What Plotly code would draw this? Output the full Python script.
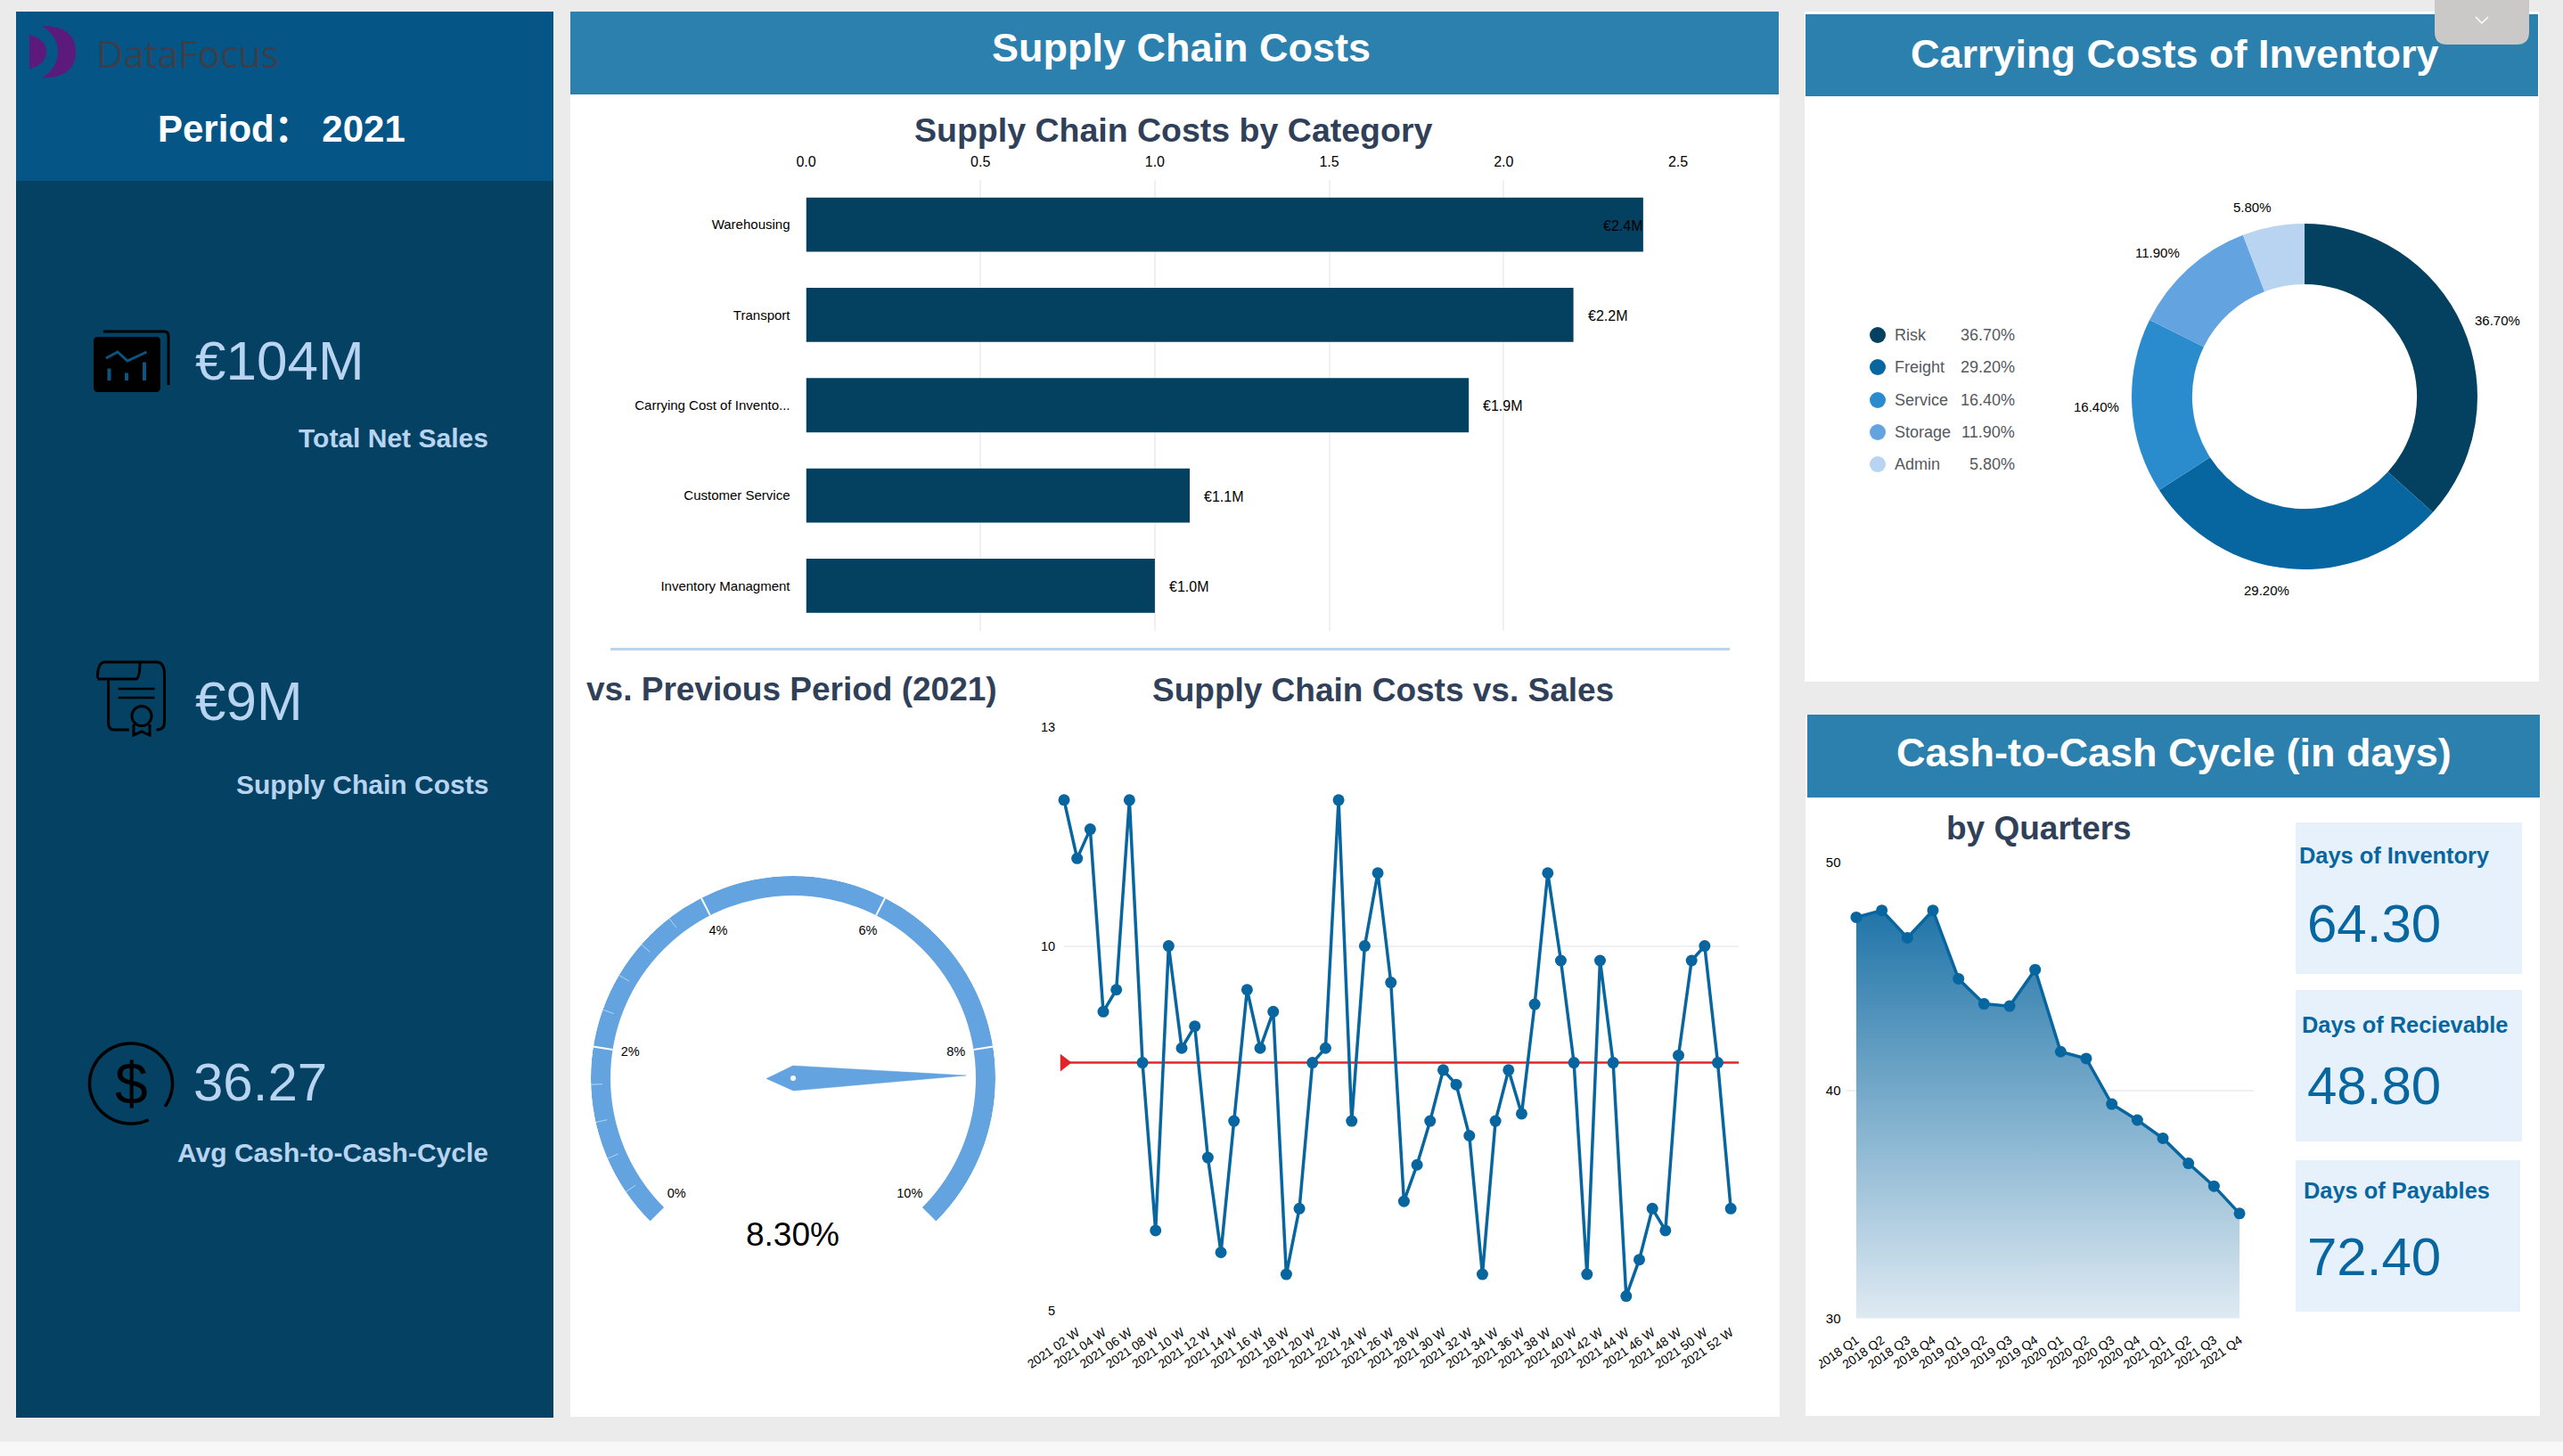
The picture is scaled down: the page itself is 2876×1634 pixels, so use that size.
import numpy as np
import plotly.graph_objects as go

# ---- Data ----
period = "2021"
kpi_sales = "€104M"
kpi_costs = "€9M"
kpi_c2c = "36.27"

cost_categories = ["Warehousing", "Transport", "Carrying Cost of Invento...", "Customer Service", "Inventory Managment"]
cost_values = [2.4, 2.2, 1.9, 1.1, 1.0]

gauge_value = 8.3
gauge_ticks = [0, 2, 4, 6, 8, 10]

weeks = list(range(1, 53))
cost_ratio = [12.0, 11.2, 11.6, 9.1, 9.4, 12.0, 8.4, 6.1, 10.0, 8.6, 8.9, 7.1, 5.8,
              7.6, 9.4, 8.6, 9.1, 5.5, 6.4, 8.4, 8.6, 12.0, 7.6, 10.0, 11.0, 9.5,
              6.5, 7.0, 7.6, 8.3, 8.1, 7.4, 5.5, 7.6, 8.3, 7.7, 9.2, 11.0, 9.8,
              8.4, 5.5, 9.8, 8.4, 5.2, 5.7, 6.4, 6.1, 8.5, 9.8, 10.0, 8.4, 6.4]
cost_ratio_reference = 8.4
week_tick_numbers = list(range(2, 53, 2))
week_tick_labels = [f"2021 {w:02d} W" for w in week_tick_numbers]

carrying_labels = ["Risk", "Freight", "Service", "Storage", "Admin"]
carrying_shares = [36.7, 29.2, 16.4, 11.9, 5.8]

quarters = ["2018 Q1", "2018 Q2", "2018 Q3", "2018 Q4", "2019 Q1", "2019 Q2", "2019 Q3", "2019 Q4",
            "2020 Q1", "2020 Q2", "2020 Q3", "2020 Q4", "2021 Q1", "2021 Q2", "2021 Q3", "2021 Q4"]
cycle_days = [47.6, 47.9, 46.7, 47.9, 44.9, 43.8, 43.7, 45.3,
              41.7, 41.4, 39.4, 38.7, 37.9, 36.8, 35.8, 34.6]

days_inventory = 64.30
days_receivable = 48.80
days_payables = 72.40

# ---- Page geometry and palette ----
W, H = 2876, 1634
FONT = "Liberation Sans, Arial, sans-serif"
NAVY = "#04405f"
BLUE = "#07669f"
MID = "#2b8ccd"
SKY = "#62a3e0"
PALE = "#b8d4f0"
HEADER = "#2c80ae"
SLATE = "#2f4058"
GRID = "#eff0f2"
SHARE_COLORS = [NAVY, BLUE, MID, SKY, PALE]


def dom_x(a, b):
    return [a / W, b / W]


def dom_y(top, bottom):
    return [1 - bottom / H, 1 - top / H]


shapes = []
annotations = []


def rect(x0, y0, x1, y1, color, layer="below"):
    shapes.append(dict(type="rect", xref="x", yref="y", x0=x0, y0=y0, x1=x1, y1=y1,
                       fillcolor=color, line_width=0, layer=layer))


def path(d, stroke=None, width=0, fill=None):
    shapes.append(dict(type="path", xref="x", yref="y", path=d, layer="below",
                       fillcolor=fill or "rgba(0,0,0,0)",
                       line=dict(color=stroke or "rgba(0,0,0,0)", width=width)))


def label(x, y, text, size, color="#000000", anchor="center", bold=False, family=FONT):
    annotations.append(dict(x=x, y=y, xref="x", yref="y", text=text, showarrow=False,
                            xanchor=anchor, yanchor="middle", borderpad=0,
                            font=dict(family=family, size=size, color=color,
                                      weight=700 if bold else 400)))


def ring_path(cx, cy, rx, ry, start_deg, end_deg, steps=80):
    angles = np.radians(np.linspace(start_deg, end_deg, steps))
    pts = [f"{cx + rx * np.cos(a):.1f},{cy - ry * np.sin(a):.1f}" for a in angles]
    return "M" + " L".join(pts)


# ---- Panels ----
rect(0, 0, W, H, "#ebebeb")
rect(0, 1618, W, H, "#f8f8f8")

rect(18, 13, 621, 1591, "#044163")
rect(18, 13, 621, 203, "#055587")

rect(640, 13, 1997, 1590, "#ffffff")
rect(640, 13, 1996, 106, HEADER)
rect(685, 727, 1941, 730, PALE)

rect(2025, 13, 2849, 765, "#ffffff")
rect(2026, 16, 2848, 108, HEADER)

rect(2026, 802, 2850, 1589, "#ffffff")
rect(2028, 802, 2850, 895, HEADER)

# Collapse tab in the top right corner
path("M2732,0 L2838,0 L2838,36 Q2838,50 2824,50 L2746,50 Q2732,50 2732,36 Z", fill="#cbc8c8")
path("M2778,19 L2785,26 L2792,19", stroke="#ffffff", width=1.5)

# Metric cards
rect(2576, 923, 2830, 1093, "#e7f1fb")
rect(2576, 1111, 2830, 1281, "#e7f1fb")
rect(2576, 1302, 2828, 1472, "#e7f1fb")

# Logo
path("M33,39 Q52,44 52,58 Q52,72 33,77.5 Z", fill="#5c1a7c")
path("M47,29 Q85,29 85,58 Q85,87.5 47,87.5 Q65,76 65,58 Q65,40 47,29 Z", fill="#5c1a7c")

# Sales icon
path("M116,372 L184,372 Q189,372 189,377 L189,432", stroke="#000000", width=3)
path("M110,378 L175,378 Q180,378 180,383 L180,435 Q180,440 175,440 L110,440 Q105,440 105,435 L105,383 Q105,378 110,378 Z",
     fill="#000000")
path("M119,402 L132,395 L143,405 L164.5,395", stroke="#0b5580", width=3)
path("M122.5,413.5 L122.5,427 M142,418.6 L142,427 M162,406.4 L162,427", stroke="#0b5580", width=4)

# Certificate icon
path("M109.4,761 Q109.4,743 118,743 L175.5,743 Q184.5,743 184.5,757 L184.5,811 Q184.5,819 175.5,819",
     stroke="#000000", width=3)
path("M109.4,762 L153,762 Q157,760 157,743", stroke="#000000", width=3)
path("M121.6,762 L121.6,811 Q121.6,819 128,819 L145,819", stroke="#000000", width=3)
path("M132.7,773 L173.5,773 M132.7,783 L173.5,783", stroke="#000000", width=2.5)
path(ring_path(159, 803.6, 11, 11, 0, 360, 40) + " Z", stroke="#000000", width=3)
path("M150,813 L150,825 L159,821 L168,825 L168,813", stroke="#000000", width=3)

# Currency icon
path(ring_path(147, 1216, 46.5, 45, -35, 295 - 0, 120), stroke="#000000", width=3.5)
label(147, 1216, "$", 66, "#000000")

# ---- Page text ----
label(107, 59, "DataFocus", 42, "#3b3f4a", anchor="left", family="Open Sans, sans-serif")
label(316, 144, f"Period： {period}", 42, "#ffffff", bold=True,
      family="Liberation Sans, Noto Sans CJK SC, sans-serif")
label(218, 404, kpi_sales, 62, PALE, anchor="left")
label(549, 491, "Total Net Sales", 30, PALE, anchor="right", bold=True)
label(218, 786, kpi_costs, 62, PALE, anchor="left")
label(549, 880, "Supply Chain Costs", 30, PALE, anchor="right", bold=True)
label(216, 1214, kpi_c2c, 60, PALE, anchor="left")
label(549, 1293, "Avg Cash-to-Cash-Cycle", 30, PALE, anchor="right", bold=True)

label(1325, 53, "Supply Chain Costs", 45, "#ffffff", bold=True)
label(1316, 146, "Supply Chain Costs by Category", 37.5, SLATE, bold=True)
label(888, 773, "vs. Previous Period (2021)", 37, SLATE, bold=True)
label(1552, 774, "Supply Chain Costs vs. Sales", 37, SLATE, bold=True)
label(2440, 60, "Carrying Costs of Inventory", 45, "#ffffff", bold=True)
label(2439, 844, "Cash-to-Cash Cycle (in days)", 45, "#ffffff", bold=True)
label(2288, 929, "by Quarters", 37, SLATE, bold=True)

label(2579, 960, "Days of Inventory", 25.4, BLUE, anchor="left", bold=True)
label(2588, 1036, f"{days_inventory:.2f}", 60, BLUE, anchor="left")
label(2582, 1150, "Days of Recievable", 25.4, BLUE, anchor="left", bold=True)
label(2588, 1218, f"{days_receivable:.2f}", 60, BLUE, anchor="left")
label(2584, 1336, "Days of Payables", 25.4, BLUE, anchor="left", bold=True)
label(2588, 1410, f"{days_payables:.2f}", 60, BLUE, anchor="left")

label(889, 1385, f"{gauge_value:.2f}%", 37)

# Legend beside the donut
legend_rows = [376, 412, 449, 485, 521]
for row, name, share, color in zip(legend_rows, carrying_labels, carrying_shares, SHARE_COLORS):
    shapes.append(dict(type="circle", xref="x", yref="y", x0=2098, x1=2116, y0=row - 9, y1=row + 9,
                       fillcolor=color, line_width=0, layer="below"))
    label(2125, row, name, 18, "#55585e", anchor="left")
    label(2262, row, f"{share:.2f}%", 18, "#55585e", anchor="right")

# Donut percentage labels
donut_label_spots = [(2802, 359), (2543, 662), (2352, 456), (2421, 283), (2527, 232)]
for (px, py), share in zip(donut_label_spots, carrying_shares):
    label(px, py, f"{share:.2f}%", 15)

fig = go.Figure()

# Full-page pixel canvas that carries the panels and free text
fig.add_trace(go.Scatter(x=[0, W], y=[0, H], mode="none", xaxis="x", yaxis="y",
                         showlegend=False, hoverinfo="skip"))

# ---- Costs by category ----
fig.add_trace(go.Bar(x=cost_values, y=cost_categories, orientation="h", width=0.6,
                     marker=dict(color=NAVY, line_width=0), xaxis="x2", yaxis="y2",
                     showlegend=False))
for name, value in zip(cost_categories, cost_values):
    near_edge = value >= 2.4
    annotations.append(dict(x=value, y=name, xref="x2", yref="y2", text=f"€{value:.1f}M", showarrow=False,
                            xanchor="right" if near_edge else "left", xshift=0 if near_edge else 15,
                            yshift=-1, borderpad=0, font=dict(family=FONT, size=16, color="#000000")))

# ---- Weekly cost ratio ----
x_span = [1, 1 + (1951 - 1194) / 14.67]
fig.add_trace(go.Scatter(x=x_span, y=[cost_ratio_reference] * 2, mode="lines",
                         line=dict(color="#e0242a", width=2.5), xaxis="x3", yaxis="y3",
                         showlegend=False, hoverinfo="skip"))
fig.add_trace(go.Scatter(x=[x_span[0]], y=[cost_ratio_reference], mode="markers",
                         marker=dict(symbol="triangle-right", size=17, color="#e0242a", line_width=0),
                         xaxis="x3", yaxis="y3", showlegend=False, cliponaxis=False, hoverinfo="skip"))
fig.add_trace(go.Scatter(x=weeks, y=cost_ratio, mode="lines+markers",
                         line=dict(color=BLUE, width=3.5), marker=dict(size=13, color=BLUE),
                         xaxis="x3", yaxis="y3", showlegend=False, cliponaxis=False))

# ---- Cash-to-cash by quarter ----
quarter_pos = list(range(len(quarters)))
fig.add_trace(go.Scatter(x=quarter_pos, y=cycle_days, mode="lines+markers", fill="tozeroy",
                         fillgradient=dict(type="vertical", start=30, stop=48,
                                           colorscale=[[0, "#dfeaf2"], [1, "#1f74a8"]]),
                         line=dict(color=BLUE, width=3.5), marker=dict(size=13, color=BLUE),
                         xaxis="x4", yaxis="y4", showlegend=False, cliponaxis=False))

# ---- Gauge ----
GAUGE_START = 225.0
GAUGE_SWEEP = 270.0
GAUGE_MAX = gauge_ticks[-1]
R_OUT, R_IN = 227, 205


def gauge_angle(v):
    return GAUGE_START - GAUGE_SWEEP * v / GAUGE_MAX


fig.add_trace(go.Barpolar(r=[R_OUT - R_IN], base=[R_IN], theta=[gauge_angle(GAUGE_MAX / 2)], width=[GAUGE_SWEEP],
                          marker=dict(color=SKY, line_width=0), subplot="polar", showlegend=False))
for tick in gauge_ticks[1:-1]:
    fig.add_trace(go.Scatterpolar(r=[R_IN, R_OUT], theta=[gauge_angle(tick)] * 2, mode="lines",
                                  line=dict(color="#ffffff", width=2), subplot="polar", showlegend=False,
                                  hoverinfo="skip"))
for step in (0, 2):
    for k in range(1, 5):
        tick = step + k * 0.4
        fig.add_trace(go.Scatterpolar(r=[R_OUT - 13, R_OUT], theta=[gauge_angle(tick)] * 2, mode="lines",
                                      line=dict(color="rgba(255,255,255,0.55)", width=1), subplot="polar",
                                      showlegend=False, hoverinfo="skip"))
fig.add_trace(go.Scatterpolar(r=[185] * len(gauge_ticks), theta=[gauge_angle(t) for t in gauge_ticks],
                              text=[f"{t}%" for t in gauge_ticks], mode="text", textposition="middle center",
                              textfont=dict(family=FONT, size=14.5, color="#000000"),
                              subplot="polar", showlegend=False, hoverinfo="skip"))
needle = gauge_angle(gauge_value)
fig.add_trace(go.Scatterpolar(r=[194, 14, 30, 14, 194], theta=[needle, needle + 90, needle + 180, needle + 270, needle],
                              mode="lines", fill="toself", fillcolor=SKY, line=dict(color=SKY, width=0.5),
                              subplot="polar", showlegend=False, hoverinfo="skip"))
fig.add_trace(go.Scatterpolar(r=[0], theta=[0], mode="markers", marker=dict(size=6, color="#ffffff"),
                              subplot="polar", showlegend=False, hoverinfo="skip"))

# ---- Carrying cost donut ----
fig.add_trace(go.Pie(labels=carrying_labels, values=carrying_shares, hole=0.65, sort=False,
                     direction="clockwise", rotation=0, textinfo="none", showlegend=False,
                     marker=dict(colors=SHARE_COLORS, line_width=0),
                     domain=dict(x=dom_x(2392, 2780), y=dom_y(251, 639))))

# Tick labels that run off the plot edge stop at the panel margin
rect(2026, 1500, 2041, 1570, "#ffffff", layer="above")
rect(1125, 1485, 1147, 1565, "#ffffff", layer="above")

tick_font = dict(family=FONT, size=14, color="#000000")
hidden = dict(visible=False, fixedrange=True)

fig.update_layout(
    width=W, height=H, margin=dict(l=0, r=0, t=0, b=0, pad=0, autoexpand=False),
    paper_bgcolor="#ebebeb", plot_bgcolor="rgba(0,0,0,0)", showlegend=False,
    font=dict(family=FONT), shapes=shapes, annotations=annotations,
    xaxis=dict(hidden, domain=[0, 1], range=[0, W]),
    yaxis=dict(hidden, domain=[0, 1], range=[H, 0]),
    xaxis2=dict(domain=dom_x(904.5, 1883), range=[0, 2.5], side="top", anchor="y2",
                tickvals=[0, 0.5, 1, 1.5, 2, 2.5], tickformat=".1f", tickprefix="€", ticksuffix="M",
                tickfont=dict(family=FONT, size=16, color="#000000"), ticks="outside", ticklen=7,
                tickcolor="rgba(0,0,0,0)", gridcolor=GRID, gridwidth=1.5, zeroline=False, showline=False),
    yaxis2=dict(domain=dom_y(201.5, 708), anchor="x2", autorange="reversed", type="category",
                tickfont=dict(family=FONT, size=15, color="#000000"), ticks="outside", ticklen=14,
                tickcolor="rgba(0,0,0,0)", showgrid=False, zeroline=False, showline=False),
    xaxis3=dict(domain=dom_x(1194, 1951), range=x_span, anchor="y3", tickmode="array",
                tickvals=week_tick_numbers, ticktext=week_tick_labels, tickangle=-35, tickfont=tick_font,
                ticks="outside", ticklen=10, tickcolor="rgba(0,0,0,0)", showgrid=False,
                zeroline=False, showline=False),
    yaxis3=dict(domain=dom_y(816, 1471), range=[5, 13], anchor="x3", tickmode="array",
                tickvals=[5, 10, 13], ticksuffix="%", tickfont=dict(family=FONT, size=14.5, color="#000000"),
                ticks="outside", ticklen=6, tickcolor="rgba(0,0,0,0)", gridcolor=GRID, gridwidth=2,
                zeroline=False, showline=False),
    xaxis4=dict(domain=dom_x(2071.5, 2528.5), range=[-0.4, 15.54], anchor="y4", tickmode="array",
                tickvals=quarter_pos, ticktext=quarters, tickangle=-35, tickfont=tick_font,
                ticks="outside", ticklen=10, tickcolor="rgba(0,0,0,0)", showgrid=False,
                zeroline=False, showline=False),
    yaxis4=dict(domain=dom_y(968, 1479.5), range=[30, 50], anchor="x4", tickmode="array",
                tickvals=[30, 40, 50], tickfont=dict(family=FONT, size=15, color="#000000"),
                ticks="outside", ticklen=2, tickcolor="rgba(0,0,0,0)", gridcolor=GRID, gridwidth=2,
                zeroline=False, showline=False),
    polar=dict(domain=dict(x=dom_x(890 - R_OUT, 890 + R_OUT), y=dom_y(1210 - R_OUT, 1210 + R_OUT)),
               bgcolor="rgba(0,0,0,0)",
               radialaxis=dict(visible=False, range=[0, R_OUT]),
               angularaxis=dict(visible=False, rotation=0, direction="counterclockwise"),
               barmode="overlay"),
)

fig.write_html("out.html", config={"displayModeBar": False})
